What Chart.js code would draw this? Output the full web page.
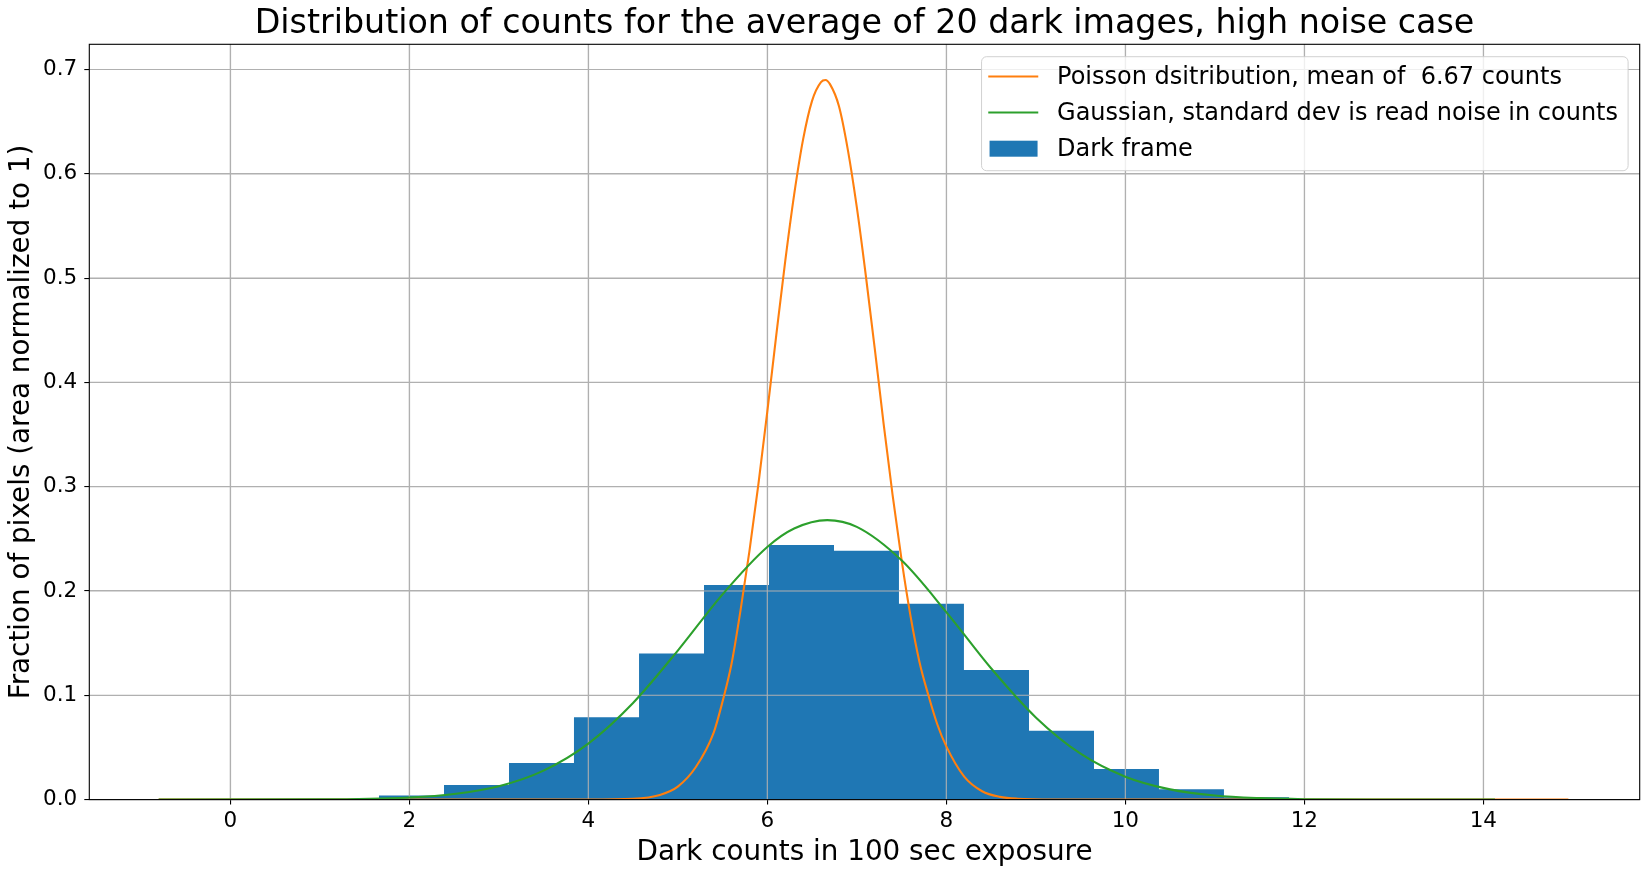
<!DOCTYPE html>
<html>
<head>
<meta charset="utf-8">
<script src="https://cdn.jsdelivr.net/npm/chart.js@4.4.1/dist/chart.umd.min.js"></script>
<style>
  html, body { margin: 0; padding: 0; background: #fff; }
  canvas { display: block; }
</style>
</head>
<body>
<canvas id="histChart" width="1648" height="875"></canvas>
<script>
// histogram bins (area normalized)
const binEdges = [1.661, 2.388, 3.114, 3.840, 4.567, 5.293, 6.019, 6.745, 7.471, 8.197, 8.924, 9.650, 10.376, 11.102, 11.829];
const binHeights = [0.004, 0.014, 0.035, 0.079, 0.140, 0.2057, 0.244, 0.2386, 0.1877, 0.1243, 0.066, 0.0294, 0.010, 0.0022];

// Poisson curve, mean 6.67 counts
const poissonX = [-0.8, 4.0, 4.5, 4.8, 5.0, 5.2, 5.4, 5.5, 5.6, 5.7, 5.8, 5.9, 6.0, 6.1, 6.2, 6.3, 6.4, 6.5, 6.6, 6.65, 6.7, 6.8, 6.9, 7.0, 7.1, 7.2, 7.3, 7.4, 7.5, 7.6, 7.7, 7.8, 7.9, 8.0, 8.2, 8.4, 8.6, 8.8, 9.2, 14.95];
const poissonY = [0, 0.00003, 0.0008, 0.0045, 0.0125, 0.031, 0.064, 0.094, 0.130, 0.181, 0.238, 0.302, 0.372, 0.445, 0.516, 0.580, 0.633, 0.670, 0.688, 0.690, 0.686, 0.665, 0.623, 0.568, 0.503, 0.433, 0.360, 0.292, 0.230, 0.176, 0.132, 0.100, 0.072, 0.051, 0.022, 0.008, 0.0026, 0.0008, 0.0001, 0];

// Gaussian curve, sigma = read noise
const gaussX = [-0.8, 1.0, 2.0, 2.5, 3.0, 3.5, 4.0, 4.5, 5.0, 5.5, 6.0, 6.3, 6.67, 7.0, 7.5, 8.0, 8.5, 9.0, 9.5, 10.0, 10.5, 11.0, 11.5, 12.0, 13.0, 14.13];
const gaussY = [0, 0.0002, 0.002, 0.0053, 0.0128, 0.0278, 0.0537, 0.0927, 0.1429, 0.1968, 0.2422, 0.2599, 0.268, 0.2615, 0.2294, 0.1798, 0.1259, 0.0788, 0.044, 0.022, 0.0098, 0.0039, 0.0014, 0.0004, 0.00003, 0];

const xTicks = [0, 2, 4, 6, 8, 10, 12, 14];
const yTicks = [0, 0.1, 0.2, 0.3, 0.4, 0.5, 0.6, 0.7];

const legendLabels = [
  'Poisson dsitribution, mean of  6.67 counts',
  'Gaussian, standard dev is read noise in counts',
  'Dark frame',
];

const BLUE = '#1f77b4';
const ORANGE = '#ff7f0e';
const GREEN = '#2ca02c';
const GRID = '#b0b0b0';
const FONT = "'DejaVu Sans', sans-serif";

const histPoints = binHeights.map((h, i) => ({ x: binEdges[i], y: h }));
histPoints.push({ x: binEdges[binEdges.length - 1], y: 0 });

Chart.defaults.color = '#000';
Chart.defaults.font.family = FONT;

// matplotlib draws the grid over the bars but under the lines
const gridOnTop = {
  id: 'gridOnTop',
  afterDatasetDraw(chart, args) {
    if (args.index !== 2) return;
    const { ctx, chartArea: a, scales: { x, y } } = chart;
    ctx.save();
    ctx.strokeStyle = GRID;
    ctx.lineWidth = 1.1;
    ctx.beginPath();
    xTicks.forEach(v => {
      const px = x.getPixelForValue(v);
      ctx.moveTo(px, a.top);
      ctx.lineTo(px, a.bottom);
    });
    yTicks.forEach(v => {
      const py = y.getPixelForValue(v);
      ctx.moveTo(a.left, py);
      ctx.lineTo(a.right, py);
    });
    ctx.stroke();
    ctx.restore();
  },
};

const frameAndLegend = {
  id: 'frameAndLegend',
  afterDraw(chart) {
    const { ctx, chartArea: a } = chart;
    ctx.save();
    ctx.strokeStyle = '#000';
    ctx.lineWidth = 1.1;
    ctx.strokeRect(a.left, a.top, a.right - a.left, a.bottom - a.top);

    // legend box, top right inside the axes
    const fs = 24;
    ctx.font = `${fs}px ${FONT}`;
    const textW = Math.max(...legendLabels.map(t => ctx.measureText(t).width));
    const right = a.right - 11.6;
    const top = a.top + 12.4;
    const left = right - (76 + textW + 9.6);
    const h = 114;
    ctx.beginPath();
    ctx.roundRect(left, top, right - left, h, 5);
    ctx.fillStyle = 'rgba(255,255,255,0.8)';
    ctx.fill();
    ctx.strokeStyle = 'rgba(204,204,204,0.9)';
    ctx.lineWidth = 1;
    ctx.stroke();

    const rows = [top + 19.8, top + 55.8, top + 92];
    ctx.lineWidth = 2.1;
    ctx.strokeStyle = ORANGE;
    ctx.beginPath(); ctx.moveTo(left + 6.7, rows[0]); ctx.lineTo(left + 56.7, rows[0]); ctx.stroke();
    ctx.strokeStyle = GREEN;
    ctx.beginPath(); ctx.moveTo(left + 6.7, rows[1]); ctx.lineTo(left + 56.7, rows[1]); ctx.stroke();
    ctx.fillStyle = BLUE;
    ctx.fillRect(left + 8, rows[2] - 8, 48, 16);

    ctx.fillStyle = '#000';
    ctx.textBaseline = 'middle';
    ctx.textAlign = 'left';
    legendLabels.forEach((t, i) => ctx.fillText(t, left + 75.5, rows[i] + 0.8));
    ctx.restore();
  },
};

const ctx = document.getElementById('histChart').getContext('2d');
const chart = new Chart(ctx, {
  type: 'line',
  data: {
    datasets: [
      {
        label: legendLabels[0],
        data: poissonX.map((x, i) => ({ x, y: poissonY[i] })),
        borderColor: ORANGE,
        borderWidth: 2.1,
        pointRadius: 0,
        cubicInterpolationMode: 'monotone',
        order: 1,
      },
      {
        label: legendLabels[1],
        data: gaussX.map((x, i) => ({ x, y: gaussY[i] })),
        borderColor: GREEN,
        borderWidth: 2.1,
        pointRadius: 0,
        cubicInterpolationMode: 'monotone',
        order: 0,
      },
      {
        label: legendLabels[2],
        data: histPoints,
        stepped: 'before',
        borderColor: 'rgba(0,0,0,0)',
        borderWidth: 0,
        backgroundColor: BLUE,
        fill: 'origin',
        pointRadius: 0,
        order: 2,
      },
    ],
  },
  options: {
    responsive: false,
    animation: false,
    events: [],
    layout: { padding: { left: 0, right: 8.3, top: 0, bottom: 0 } },
    scales: {
      x: {
        type: 'linear',
        min: -1.575,
        max: 15.747,
        afterBuildTicks: scale => { scale.ticks = xTicks.map(v => ({ value: v })); },
        afterFit: scale => { scale.height = 75.4; },
        ticks: { font: { size: 21.5, lineHeight: 1 }, padding: 6.2, color: '#000', maxRotation: 0 },
        grid: { color: GRID, lineWidth: 1.1, tickColor: '#000', tickLength: 5, tickWidth: 1.1 },
        border: { display: false },
        title: {
          display: true,
          text: 'Dark counts in 100 sec exposure',
          font: { size: 27.8, lineHeight: 1 },
          padding: { top: 0, bottom: 8.6 },
          color: '#000',
        },
      },
      y: {
        type: 'linear',
        min: 0,
        max: 0.7242,
        afterBuildTicks: scale => { scale.ticks = yTicks.map(v => ({ value: v })); },
        afterFit: scale => { scale.width = 89.3; },
        ticks: { font: { size: 21.5, lineHeight: 1 }, padding: 7, color: '#000', callback: v => v.toFixed(1) },
        grid: { color: GRID, lineWidth: 1.1, tickColor: '#000', tickLength: 5, tickWidth: 1.1 },
        border: { display: false },
        title: {
          display: true,
          text: 'Fraction of pixels (area normalized to 1)',
          font: { size: 27.8, lineHeight: 1 },
          padding: { top: 8.1, bottom: 0 },
          color: '#000',
        },
      },
    },
    plugins: {
      legend: { display: false },
      tooltip: { enabled: false },
      title: {
        display: true,
        fullSize: false,
        text: 'Distribution of counts for the average of 20 dark images, high noise case',
        font: { size: 33.3, weight: 'normal', lineHeight: 1 },
        padding: { top: 7.25, bottom: 3.75 },
        color: '#000',
      },
    },
  },
  plugins: [gridOnTop, frameAndLegend],
});
</script>
</body>
</html>
